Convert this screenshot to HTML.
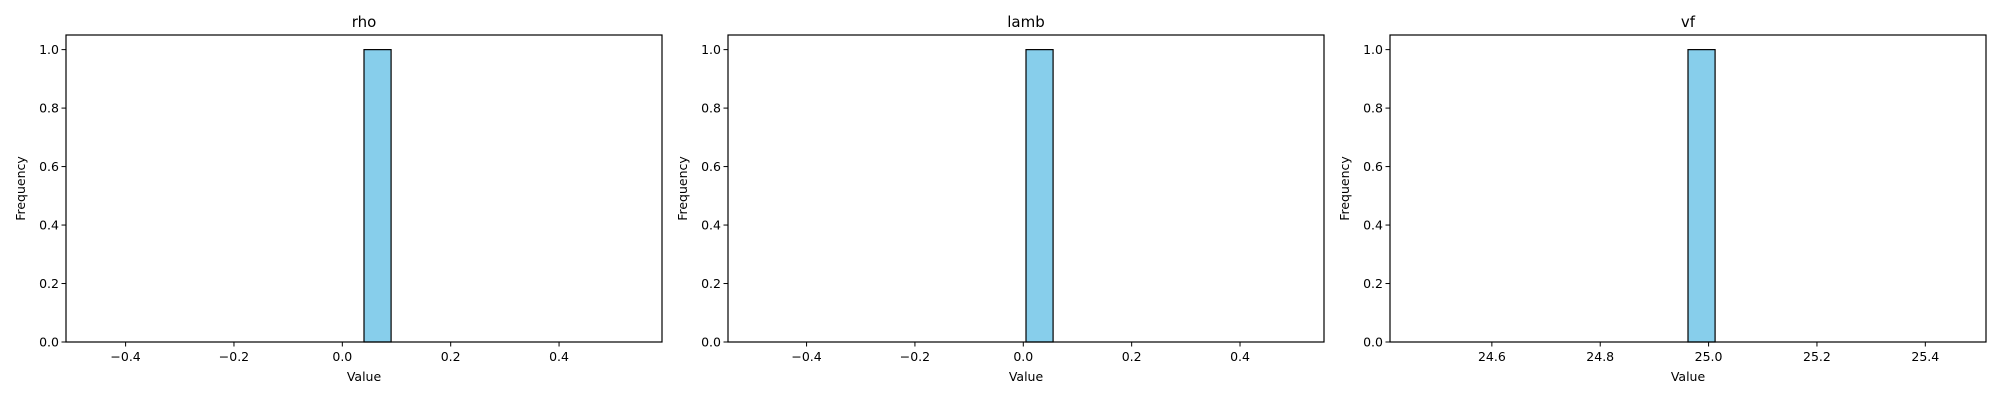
<!DOCTYPE html>
<html><head><meta charset="utf-8"><style>
body{margin:0;background:#fff;}
svg{display:block;font-family:"DejaVu Sans","Liberation Sans",sans-serif;}
</style></head><body>
<svg id="c" width="2000" height="400" viewBox="0 0 2000 400"></svg>
<script>
const panelTitles = ["rho", "lamb", "vf"];
const panelValues = [0.04, 0.005, 24.962];
const panelCounts = [
  [0,0,0,0,0,0,0,0,0,0,1,0,0,0,0,0,0,0,0,0],
  [0,0,0,0,0,0,0,0,0,0,1,0,0,0,0,0,0,0,0,0],
  [0,0,0,0,0,0,0,0,0,0,1,0,0,0,0,0,0,0,0,0]
];
const xTicks = [
  [-0.4,-0.2,0.0,0.2,0.4],
  [-0.4,-0.2,0.0,0.2,0.4],
  [24.6,24.8,25.0,25.2,25.4]
];
const yTicks = [0.0,0.2,0.4,0.6,0.8,1.0];

const NS="http://www.w3.org/2000/svg";
const svgEl=document.getElementById('c');
function mk(tag,attrs,parent){const e=document.createElementNS(NS,tag);for(const k in attrs)e.setAttribute(k,attrs[k]);(parent||svgEl).appendChild(e);return e;}
const lefts=[66,728,1390], plotW=596, plotTop=35, plotBottom=342;
panelTitles.forEach((title,p)=>{
  const g=mk('g',{});
  
  
  const v=panelValues[p], lo=v-0.5, hi=v+0.5, counts=panelCounts[p], n=counts.length;
  const x0=lo-(hi-lo)*0.05, x1=hi+(hi-lo)*0.05;
  const maxC=Math.max(...counts), ymax=maxC*1.05;
  const L=lefts[p];
  const sx=x=>L+(x-x0)/(x1-x0)*plotW;
  const sy=y=>plotBottom-(y/ymax)*(plotBottom-plotTop);
  const bw=(hi-lo)/n;
  counts.forEach((c,i)=>{
    const a=sx(lo+i*bw), b=sx(lo+(i+1)*bw);
    const r=mk('rect',{x:a,y:sy(c),width:b-a,height:Math.max(0,sy(0)-sy(c)),fill:'#87ceeb',stroke:'#000','stroke-width':1.2,'stroke-opacity':c>0?1:0.15},g);
    
    
  });
  const frame=mk('rect',{x:L,y:plotTop,width:plotW,height:plotBottom-plotTop,fill:'none',stroke:'#000','stroke-width':1.2},g);
  
  
  xTicks[p].forEach(t=>{
    const x=sx(t);
    mk('line',{x1:x,x2:x,y1:plotBottom,y2:plotBottom+4.5,stroke:'#000','stroke-width':1},g);
    const tx=mk('text',{x:x,y:plotBottom+19,'font-size':12.5,'text-anchor':'middle'},g);
    tx.textContent=(t<0?'\u2212':'')+Math.abs(t).toFixed(1);
    
    
  });
  yTicks.forEach(t=>{
    const y=sy(t);
    mk('line',{x1:L,x2:L-4.5,y1:y,y2:y,stroke:'#000','stroke-width':1},g);
    const tx=mk('text',{x:L-7,y:y+4.5,'font-size':12.5,'text-anchor':'end'},g);
    tx.textContent=t.toFixed(1);
    
    
  });
  const tt=mk('text',{x:L+plotW/2,y:27,'font-size':15,'text-anchor':'middle'},g);
  tt.textContent=title;
  
  
  const xl=mk('text',{x:L+plotW/2,y:381,'font-size':12.5,'text-anchor':'middle'},g);
  xl.textContent='Value';
  
  
  const yl=mk('text',{x:0,y:0,'font-size':12.5,'text-anchor':'middle',transform:`translate(${L-41},${(plotTop+plotBottom)/2}) rotate(-90)`},g);
  yl.textContent='Frequency';
  
  
});
</script>
</body></html>
